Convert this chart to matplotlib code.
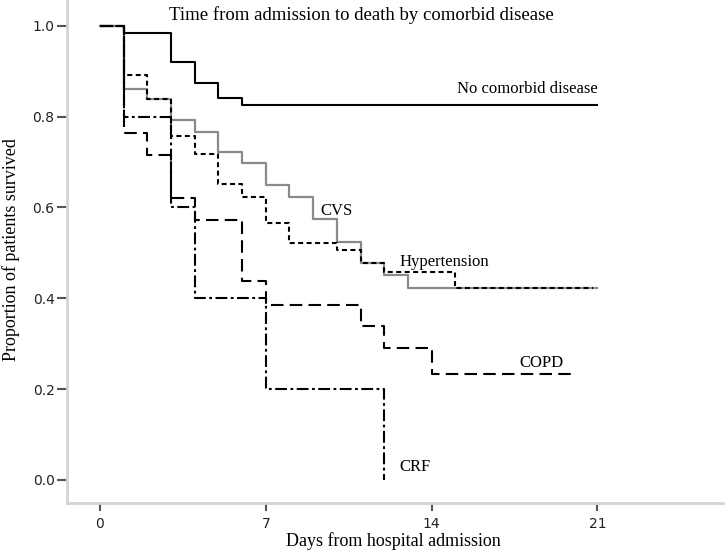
import matplotlib
matplotlib.use('Agg')
import matplotlib.pyplot as plt

plt.rcParams['lines.scale_dashes'] = False

# Kaplan-Meier steps (day, proportion surviving)
no_comorbid_days = [0, 1, 3, 4, 5, 6, 21]
no_comorbid_surv = [1.0, 0.984, 0.921, 0.874, 0.841, 0.826, 0.826]

cvs_days = [0, 1, 2, 3, 4, 5, 6, 7, 8, 9, 10, 11, 12, 13, 21]
cvs_surv = [1.0, 0.861, 0.839, 0.793, 0.767, 0.723, 0.698, 0.650, 0.624,
            0.574, 0.525, 0.478, 0.452, 0.423, 0.423]

hyp_days = [0, 1, 2, 3, 4, 5, 6, 7, 8, 10, 11, 12, 15, 20.8]
hyp_surv = [1.0, 0.892, 0.839, 0.758, 0.718, 0.652, 0.624, 0.566, 0.522,
            0.507, 0.478, 0.458, 0.423, 0.423]

copd_days = [0, 1, 2, 3, 4, 6, 7, 11, 12, 14, 20]
copd_surv = [1.0, 0.765, 0.716, 0.621, 0.573, 0.437, 0.385, 0.338, 0.290,
             0.233, 0.233]

crf_days = [0, 1, 3, 4, 7, 12]
crf_surv = [1.0, 0.8, 0.6, 0.4, 0.2, 0.0]

x_ticks = [0, 7, 14, 21]
y_ticks = [0.0, 0.2, 0.4, 0.6, 0.8, 1.0]

serif = 'Liberation Serif'
narrow = ['Liberation Sans Narrow', 'DejaVu Sans']

fig = plt.figure(figsize=(7.25, 5.53), dpi=100)
ax = fig.add_axes([67 / 725, 50 / 553, 656 / 725, 503 / 553])

ax.step(no_comorbid_days, no_comorbid_surv, where='post', color='black', lw=1.5)
ax.step(cvs_days, cvs_surv, where='post', color='#8a8a8a', lw=1.6)
ax.step(hyp_days, hyp_surv, where='post', color='black', lw=1.5,
        linestyle=(0, (3.6, 2.5)))
ax.step(copd_days, copd_surv, where='post', color='black', lw=1.5,
        linestyle=(0, (9.0, 4.5)))
ax.step(crf_days, crf_surv, where='post', color='black', lw=1.5,
        linestyle=(0, (8.5, 2.5, 2.0, 2.5)))

ax.text(21.0, 0.861, 'No comorbid disease', ha='right', va='center',
        family=serif, fontsize=12)
ax.text(9.3, 0.593, 'CVS', ha='left', va='center', family=serif, fontsize=12)
ax.text(12.63, 0.48, 'Hypertension', ha='left', va='center',
        family=serif, fontsize=12)
ax.text(17.7, 0.258, 'COPD', ha='left', va='center', family=serif, fontsize=12)
ax.text(12.63, 0.029, 'CRF', ha='left', va='center', family=serif, fontsize=12)

ax.text(0.448, 0.970, 'Time from admission to death by comorbid disease',
        transform=ax.transAxes, ha='center', va='center',
        family=serif, fontsize=13.5)

ax.set_xlim(-1.39, 26.3)
ax.set_ylim(-0.051, 1.057)
ax.set_xticks(x_ticks)
ax.set_yticks(y_ticks)
ax.set_yticklabels(['%.1f' % v for v in y_ticks])

for lab in ax.get_xticklabels() + ax.get_yticklabels():
    lab.set_family(narrow)
    lab.set_fontsize(10)
    lab.set_color('#222222')

ax.tick_params(axis='y', length=7, width=1.5, color='#555555', pad=2)
ax.tick_params(axis='x', length=6, width=1.5, color='#555555', pad=4)

ax.spines['top'].set_visible(False)
ax.spines['right'].set_visible(False)
for s in ['left', 'bottom']:
    ax.spines[s].set_color('#d4d4d4')
    ax.spines[s].set_linewidth(2)

fig.text(393 / 725, (553 - 541) / 553, 'Days from hospital admission',
         ha='center', va='center', family=serif, fontsize=13)
fig.text(11 / 725, (553 - 250) / 553, 'Proportion of patients survived',
         ha='center', va='center', rotation=90, family=serif, fontsize=13)

plt.savefig('out.png', dpi=100)
